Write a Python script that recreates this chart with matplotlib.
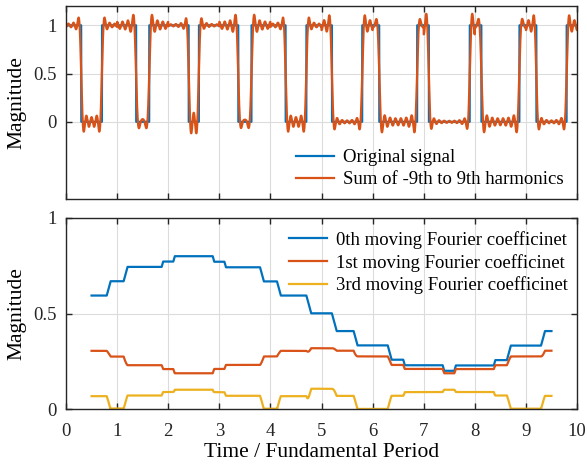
import numpy as np
import matplotlib.pyplot as plt

# duty cycle (fraction of each fundamental period where the signal is 1),
# read off the original signal; the 0-part is centred in every period
duty = [0.593, 0.743, 0.800, 0.743, 0.593, 0.407, 0.257, 0.200, 0.257, 0.407]
n_harm = 9
coef_orders = [0, 1, 3]
coef_labels = ["0th moving Fourier coefficinet",
               "1st moving Fourier coefficinet",
               "3rd moving Fourier coefficinet"]
xticks = list(range(11))

colors = ["#0072BD", "#D95319", "#EDB120"]

plt.rcParams["font.family"] = ["Liberation Serif", "DejaVu Serif"]
plt.rcParams["font.size"] = 13.5
plt.rcParams["axes.labelsize"] = 15.5
plt.rcParams["axes.linewidth"] = 1.0
plt.rcParams["axes.edgecolor"] = "#262626"
plt.rcParams["xtick.direction"] = "in"
plt.rcParams["ytick.direction"] = "in"
plt.rcParams["xtick.top"] = True
plt.rcParams["ytick.right"] = True
plt.rcParams["xtick.color"] = "#262626"
plt.rcParams["ytick.color"] = "#262626"
plt.rcParams["xtick.labelcolor"] = "#262626"
plt.rcParams["ytick.labelcolor"] = "#262626"

# sampled signal
N = 1000
n_per = len(duty)
t = (np.arange(n_per * N) + 0.5) / N
sig = np.ones_like(t)
for k, d in enumerate(duty):
    sig[np.abs(t - (k + 0.5)) < (1 - d) / 2] = 0.0

# per-period partial Fourier sum, harmonics -9..9
recon = np.zeros_like(t)
for k in range(n_per):
    sl = slice(k * N, (k + 1) * N)
    tt = t[sl]
    for n in range(-n_harm, n_harm + 1):
        c = np.mean(sig[sl] * np.exp(-2j * np.pi * n * tt))
        recon[sl] += np.real(c * np.exp(2j * np.pi * n * tt))

# moving (one-period window) Fourier coefficients, centred on the window
t_mov = np.arange(0, (n_per - 1) * N + 1) / N + 0.5
mov = []
for n in coef_orders:
    cs = np.concatenate([[0], np.cumsum(sig * np.exp(-2j * np.pi * n * t)) / N])
    mov.append(np.abs(cs[N:] - cs[:-N]))

fig = plt.figure(figsize=(5.87, 4.66), dpi=100)
ax1 = fig.add_axes([66 / 587, 1 - 199 / 466, 511 / 587, 193 / 466])
ax2 = fig.add_axes([66 / 587, 1 - 409 / 466, 511 / 587, 191 / 466])

ax1.plot(t, sig, color=colors[0], lw=1.6, label="Original signal")
ax1.plot(t, recon, color=colors[1], lw=1.6, label="Sum of -9th to 9th harmonics")
ax1.set_xlim(0, 10)
ax1.set_ylim(-0.8, 1.2)
ax1.set_xticks(xticks)
ax1.set_xticklabels([])
ax1.set_yticks([0, 0.5, 1])
ax1.set_yticklabels(["0", "0.5", "1"])
ax1.set_ylabel("Magnitude")
ax1.yaxis.set_label_coords(-0.077, 0.5)
ax1.grid(True, color="#dcdcdc", lw=0.8)
ax1.legend(loc="lower right", bbox_to_anchor=(1.0, -0.012), frameon=False,
           handlelength=2.0, labelspacing=0.26, handletextpad=0.5,
           borderaxespad=0.3)

for y, lab, col in zip(mov, coef_labels, colors):
    ax2.plot(t_mov, y, color=col, lw=1.6, label=lab)
ax2.set_xlim(0, 10)
ax2.set_ylim(0, 1)
ax2.set_xticks(xticks)
ax2.set_yticks([0, 0.5, 1])
ax2.set_yticklabels(["0", "0.5", "1"])
ax2.set_xlabel("Time / Fundamental Period")
ax2.xaxis.set_label_coords(0.5, -0.18)
ax2.set_ylabel("Magnitude")
ax2.yaxis.set_label_coords(-0.077, 0.5)
ax2.grid(True, color="#dcdcdc", lw=0.8)
ax2.legend(loc="upper right", bbox_to_anchor=(1.008, 1.0), frameon=False,
           handlelength=2.0, labelspacing=0.26, handletextpad=0.5,
           borderaxespad=0.3)

for ax in (ax1, ax2):
    ax.tick_params(axis="y", length=4, width=1.0, pad=6.5)
    ax.tick_params(axis="x", length=4, width=1.0, pad=10)

fig.savefig("out.png", dpi=100)
